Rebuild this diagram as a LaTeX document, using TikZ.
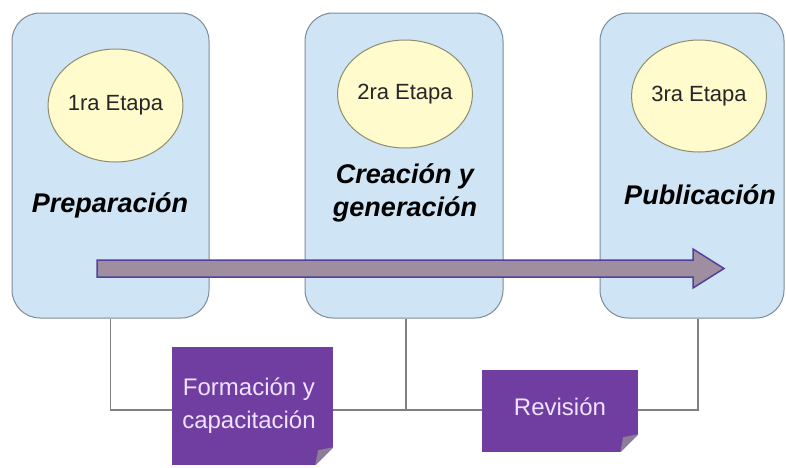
\documentclass[tikz,border=0pt]{standalone}
\usepackage{fontspec}
\setmainfont{Liberation Sans}
\usetikzlibrary{shapes.geometric,calc}
\definecolor{boxfill}{HTML}{CFE4F4}
\definecolor{boxline}{HTML}{7D8C98}
\definecolor{ellfill}{HTML}{FFFBCC}
\definecolor{ellline}{HTML}{8E8E6C}
\definecolor{arrfill}{HTML}{9E8EA0}
\definecolor{arrline}{HTML}{54409C}
\definecolor{notefill}{HTML}{6F3EA0}
\definecolor{notetext}{HTML}{F0E2FF}
\definecolor{foldfill}{HTML}{8C7E98}
\definecolor{connline}{HTML}{808080}
\tikzset{
  stagebox/.style={draw=boxline, fill=boxfill, rounded corners=28pt, line width=1pt,
    minimum height=305pt, inner sep=0pt},
  stageell/.style={ellipse, draw=ellline, fill=ellfill, line width=1pt, inner sep=0pt,
    font=\fontsize{22}{26}\selectfont, text=black!85},
  stagelbl/.style={font=\fontsize{27}{33}\selectfont\bfseries\itshape, align=center, anchor=base, inner sep=0pt},
  notebox/.style={fill=notefill, inner sep=0pt, text=notetext, align=center,
    font=\fontsize{24}{33}\selectfont},
  notetxt/.style={text=notetext, align=center, anchor=base, inner sep=0pt,
    font=\fontsize{24}{33}\selectfont},
  conn/.style={draw=connline, line width=1.2pt},
  bigarrow/.style={draw=arrline, fill=arrfill, line width=1.5pt, line join=miter}
}
\begin{document}
\begin{tikzpicture}[x=1pt,y=-1pt]
\useasboundingbox (0,0) rectangle (786,467);
\fill[white] (0,0) rectangle (786,467);

% stage boxes
\node[stagebox, minimum width=197pt] (b1) at (110.5,165.5) {};
\node[stagebox, minimum width=198pt] (b2) at (404,165.5) {};
\node[stagebox, minimum width=184pt] (b3) at (692,165.5) {};

% connectors
\coordinate (c3) at ($(b3.south)+(6,0)$);
\coordinate (c2) at ($(b2.south)+(2,0)$);
\coordinate (jn) at (406,410);
\draw[conn] (b1.south) |- (jn) -| (c3);
\draw[conn] (c2) -- (jn);

% ellipses
\node[stageell, minimum width=133pt, minimum height=113pt] (e1) at (115.5,105.5) {1ra Etapa};
\node[stageell, minimum width=134pt, minimum height=108pt] (e2) at (405,94) {2ra Etapa};
\node[stageell, minimum width=132pt, minimum height=112pt] (e3) at (699,96) {3ra Etapa};

% stage labels
\node[stagelbl] (l1) at (110,212) {Preparación};
\node[stagelbl] (l2a) at (405,183) {Creación y};
\node[stagelbl] (l2b) at (405,216) {generación};
\node[stagelbl] (l3) at (700,204) {Publicación};

% big arrow
\draw[bigarrow] (97,260) -- (693,260) -- (693,249) -- (724,268.5) -- (693,288) -- (693,277) -- (97,277) -- cycle;

% notes
\node[notebox, minimum width=161pt, minimum height=118pt] (n1) at (252.5,406) {};
\node[notebox, minimum width=156pt, minimum height=82pt] (n2) at (560,411) {};
\foreach \n in {n1,n2}{
  \fill[white] ($(\n.south east)+(-18,0.5)$) -- ($(\n.south east)+(0.5,0.5)$) -- ($(\n.south east)+(0.5,-18)$) -- cycle;
  \fill[foldfill] ($(\n.south east)+(-18,0)$) -- ($(\n.south east)+(0,-18)$) -- ($(\n.south east)+(-15,-15)$) -- cycle;
}
\node[notetxt] (t1a) at (249,395) {Formación y};
\node[notetxt] (t1b) at (249,428) {capacitación};
\node[notetxt] (t2) at (560,415) {Revisión};
\end{tikzpicture}
\end{document}
